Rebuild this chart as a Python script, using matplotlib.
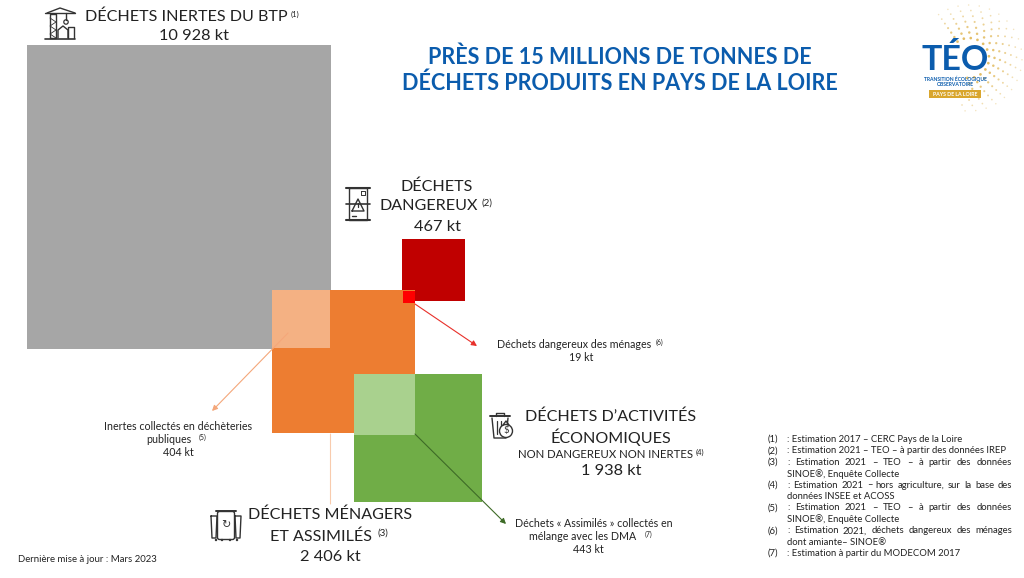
import numpy as np
import matplotlib
matplotlib.use("Agg")
import matplotlib.pyplot as plt
from matplotlib.patches import Rectangle, Circle, FancyBboxPatch

plt.rcParams['font.family'] = ['Lato', 'DejaVu Sans']

# values in kt, a square's area follows the value
inertes = 10928
dangereux = 467
menagers = 2406
activites = 1938
inertes_dech = 404
dangereux_men = 19
assimiles = 443
px_per_sqrt_kt = 2.91

footnotes = [
    ("(1)", [(": Estimation 2017 – CERC Pays de la Loire", False)]),
    ("(2)", [(": Estimation 2021 – TEO – à partir des données IREP", False)]),
    ("(3)", [(": Estimation 2021 – TEO – à partir des données", True), ("SINOE®, Enquête Collecte", False)]),
    ("(4)", [(": Estimation 2021 – hors agriculture, sur la base des", True), ("données INSEE et ACOSS", False)]),
    ("(5)", [(": Estimation 2021 – TEO – à partir des données", True), ("SINOE®, Enquête Collecte", False)]),
    ("(6)", [(": Estimation 2021, déchets dangereux des ménages", True), ("dont amiante– SINOE®", False)]),
    ("(7)", [(": Estimation à partir du MODECOM 2017", False)]),
]

GREY = "#A6A6A6"
ORANGE = "#ED7D31"
RED = "#C00000"
GREEN = "#70AD47"
BLUE = "#0B5CAD"
GOLD = "#D9A62E"
INK = "#222222"
HEAD = 11.6
VALUE = 11.8
SMALL = 7.7

fig = plt.figure(figsize=(10.24, 5.78), dpi=100)
ax = fig.add_axes([0, 0, 1, 1])
ax.set_xlim(0, 1024)
ax.set_ylim(578, 0)
ax.axis("off")


def square(x, y, value, color, z):
    s = px_per_sqrt_kt * np.sqrt(value)
    ax.add_patch(Rectangle((x, y), s, s, fc=color, ec="none", zorder=z))
    return s


def arrow(x0, y0, x1, y1, color, head=True):
    ax.annotate("", xy=(x1, y1), xytext=(x0, y0), zorder=6,
                arrowprops=dict(arrowstyle="-|>" if head else "-", color=color, lw=0.8,
                                mutation_scale=8, shrinkA=0, shrinkB=0))


def label(x, y, s, size, color=INK, weight="normal", ha="center"):
    return ax.text(x, y + 1.3, s, fontsize=size, color=color, fontweight=weight, ha=ha, va="center")


def sup(x, y, s, size=5.5):
    ax.text(x, y, s, fontsize=size, color=INK, ha="left", va="center")


def ln(xs, ys, lw=1.0, color="#333333"):
    ax.plot(xs, ys, color=color, lw=lw, solid_capstyle="round", zorder=7)


square(27, 45, inertes, GREY, 1)
square(272, 290, menagers, ORANGE, 2)
square(402, 238.5, dangereux, RED, 1)
square(354, 374, activites, GREEN, 1)
square(272, 290, inertes_dech, "#F4B183", 3)
square(402.5, 290.5, dangereux_men, "#FF0000", 3)
square(354, 374, assimiles, "#A9D18E", 3)

arrow(288, 333, 212, 411, "#F4A77A")
arrow(330.5, 434, 330.5, 504, "#F8CBAD", head=False)
arrow(415, 304, 477, 346, "#E8302A")
arrow(415, 434, 506, 524, "#3E6B27")

# block labels
label(186, 15, "DÉCHETS INERTES DU BTP", HEAD)
sup(291, 14, "(1)")
label(194, 35, "10 928 kt", VALUE)

label(437, 185, "DÉCHETS", HEAD)
label(429, 205, "DANGEREUX", HEAD)
sup(481, 203, "(2)", 7)
label(437, 226, "467 kt", VALUE)

label(611, 415, "DÉCHETS D’ACTIVITÉS", HEAD)
label(611, 436, "ÉCONOMIQUES", HEAD)
label(606, 453, "NON DANGEREUX NON INERTES", 8.2)
sup(696, 452, "(4)", 5.5)
label(611, 470, "1 938 kt", VALUE)

label(330.5, 513, "DÉCHETS MÉNAGERS", HEAD)
label(321, 535, "ET ASSIMILÉS", HEAD)
sup(377, 533, "(3)", 7)
label(330, 556, "2 406 kt", VALUE)

# small labels
label(178, 425, "Inertes collectés en déchèteries", SMALL)
label(169, 438, "publiques", SMALL)
sup(199, 437, "(5)", 5)
label(178, 451, "404 kt", SMALL)

label(574, 343, "Déchets dangereux des ménages", SMALL)
sup(656, 342, "(6)", 5)
label(581, 356, "19 kt", SMALL)

label(594, 522, "Déchets « Assimilés » collectés en", SMALL)
label(583, 535, "mélange avec les DMA", SMALL)
sup(645, 534, "(7)", 5)
label(588, 548, "443 kt", SMALL)

label(18, 558, "Dernière mise à jour : Mars 2023", 6.9, ha="left")

# title
label(620, 56, "PRÈS DE 15 MILLIONS DE TONNES DE", 15.5, color=BLUE, weight="bold")
label(620, 82, "DÉCHETS PRODUITS EN PAYS DE LA LOIRE", 15.5, color=BLUE, weight="bold")

# logo
for r in np.arange(20, 56, 5.5):
    for a in np.radians(np.arange(-125, 100, 900 / (r + 25))):
        ax.add_patch(Circle((969 + r * np.cos(a), 58 + r * np.sin(a)), 1.7 - r * 0.018,
                            fc=GOLD, ec="none", alpha=max(0.25, 1.0 - r / 75), zorder=1))
label(955, 59, "TÉO", 24.5, color=BLUE, weight="bold")
label(955, 78, "TRANSITION ÉCOLOGIQUE", 3.6, color=BLUE, weight="bold")
label(955, 83, "OBSERVATOIRE", 3.6, color=BLUE, weight="bold")
ax.add_patch(Rectangle((929, 90), 52, 8, fc=GOLD, ec="none"))
label(955, 93.2, "PAYS DE LA LOIRE", 3.8, color="white", weight="bold")

# crane icon
ln([50, 50, 56, 56, 50], [38, 14, 14, 38, 38])
ln([45, 75], [13, 13])
ln([47, 60, 75], [13, 8, 13])
ln([50, 56, 50, 56, 50, 56], [18, 22, 26, 30, 34, 38], lw=0.6)
ln([66, 66], [13, 20])
ln([45, 75], [38.5, 38.5], lw=1.2)
ln([58, 58, 63, 68, 68], [38, 30, 26, 30, 38])
ln([68, 68, 74, 74], [38, 27, 27, 38])
ax.add_patch(Circle((66, 22), 2.2, fc="none", ec="#333333", lw=0.9, zorder=7))

# barrel icon
ln([349, 349, 367, 367, 349], [188, 220, 220, 188, 188])
ln([346, 370], [188, 188], lw=1.5)
ln([346, 370], [220, 220], lw=1.5)
ln([346, 370], [204, 204], lw=1.2)
ln([352, 358, 364, 352], [211, 199, 211, 211])
ln([358, 358], [203, 207], lw=0.9)
ln([361, 365, 365, 361, 361], [191, 191, 195, 195, 191], lw=0.7)
ln([352, 356], [216, 216], lw=1.0)

# bin with money bag icon
ln([492, 494, 506, 508], [418, 438, 438, 418])
ln([490, 510], [416, 416], lw=1.4)
ln([496, 496, 504, 504], [416, 413, 413, 416])
ln([497, 497], [421, 434], lw=0.9)
ln([501, 501], [421, 430], lw=0.9)
ax.add_patch(Circle((506, 431), 6.5, fc="white", ec="#333333", lw=1.0, zorder=7))
ax.text(506, 431, "$", fontsize=7, color="#333333", ha="center", va="center", zorder=8)
ln([503, 506, 509], [425, 421, 425])

# recycling bins icon
for bx, bw in [(211, 6), (235, 6)]:
    ln([bx, bx + 1, bx + bw - 1, bx + bw, bx], [516, 538, 538, 516, 516])
ax.add_patch(FancyBboxPatch((218, 512), 16, 27, boxstyle="round,pad=0.5,rounding_size=2",
                            fc="white", ec="#333333", lw=1.0, zorder=7))
ln([216, 236], [511, 511], lw=1.4)
ax.text(226, 525, "↻", fontsize=8, color="#333333", ha="center", va="center", zorder=8,
        family="DejaVu Sans")
for cx in [216, 222, 230, 237]:
    ax.add_patch(Circle((cx, 540), 1.2, fc="#333333", ec="none", zorder=8))

# footnotes, some lines justified up to the right margin
fig.canvas.draw()
rend = fig.canvas.get_renderer()
note_size = 6.8
note_left = 787
note_right = 1012
line_h = 11.4


def note_line(y, s, justify):
    if not justify:
        ax.text(note_left, y, s, fontsize=note_size, color=INK, ha="left", va="center")
        return
    items = [ax.text(0, y, w, fontsize=note_size, color=INK, ha="left", va="center") for w in s.split(" ")]
    widths = [t.get_window_extent(rend).width for t in items]
    gap = (note_right - note_left - sum(widths)) / (len(items) - 1)
    x = note_left
    for t, w in zip(items, widths):
        t.set_x(x)
        x += w + gap


y = 439.5
for num, lines in footnotes:
    ax.text(768, y, num, fontsize=note_size, color=INK, ha="left", va="center")
    for s, justify in lines:
        note_line(y, s, justify)
        y += line_h

fig.savefig("out.png", dpi=100, facecolor="white")
